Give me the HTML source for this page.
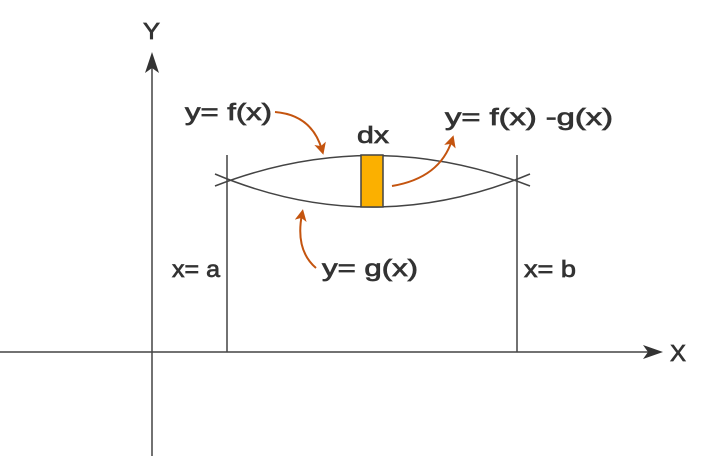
<!DOCTYPE html>
<html><head><style>
html,body{margin:0;padding:0;background:#fff;width:709px;height:456px;overflow:hidden}
text{font-family:"Liberation Sans",sans-serif;fill:#333;font-size:23px;stroke:#333;stroke-width:0.7}
</style></head><body>
<svg width="709" height="456" viewBox="0 0 709 456" xmlns="http://www.w3.org/2000/svg">
<defs>
<marker id="oa" markerWidth="12" markerHeight="12" refX="7" refY="6" orient="auto" markerUnits="userSpaceOnUse"><path d="M0,0 L12,6 L0,12 L3,6 Z" fill="#c4540f"/></marker>
</defs>
<g stroke="#444" stroke-width="1.5" fill="none">
<line x1="0" y1="352" x2="650" y2="352"/>
<line x1="152" y1="456" x2="152" y2="65"/>
<line x1="227" y1="155" x2="227" y2="352"/>
<line x1="517" y1="155" x2="517" y2="352"/>
<path d="M215,186 Q372,125 530,186"/>
<path d="M215,174 Q372,240 530,174"/>
</g>
<path d="M643,345 L663,352 L643,359 L648,352 Z" fill="#333"/>
<path d="M145,73 L152,52 L159,73 L152,68 Z" fill="#333"/>
<rect x="361" y="155" width="22" height="52" fill="#fbb000" stroke="#444" stroke-width="1.5"/>
<g stroke="#c4540f" stroke-width="2" fill="none">
<path d="M275,112 Q312,115 322,150" marker-end="url(#oa)"/>
<path d="M392,186 Q440,178 452,140" marker-end="url(#oa)"/>
<path d="M316,268 Q295,250 302,214" marker-end="url(#oa)"/>
</g>
<text x="143" y="39" textLength="17" lengthAdjust="spacingAndGlyphs">Y</text>
<text x="670" y="361" textLength="16" lengthAdjust="spacingAndGlyphs">X</text>
<text x="185" y="120" textLength="87" lengthAdjust="spacingAndGlyphs">y= f(x)</text>
<text x="445" y="125" textLength="168" lengthAdjust="spacingAndGlyphs">y= f(x) -g(x)</text>
<text x="357" y="143" textLength="32" lengthAdjust="spacingAndGlyphs">dx</text>
<text x="322" y="276" textLength="96" lengthAdjust="spacingAndGlyphs">y= g(x)</text>
<text x="172" y="277" textLength="48" lengthAdjust="spacingAndGlyphs">x= a</text>
<text x="524" y="277" textLength="52" lengthAdjust="spacingAndGlyphs">x= b</text>
</svg>
</body></html>
